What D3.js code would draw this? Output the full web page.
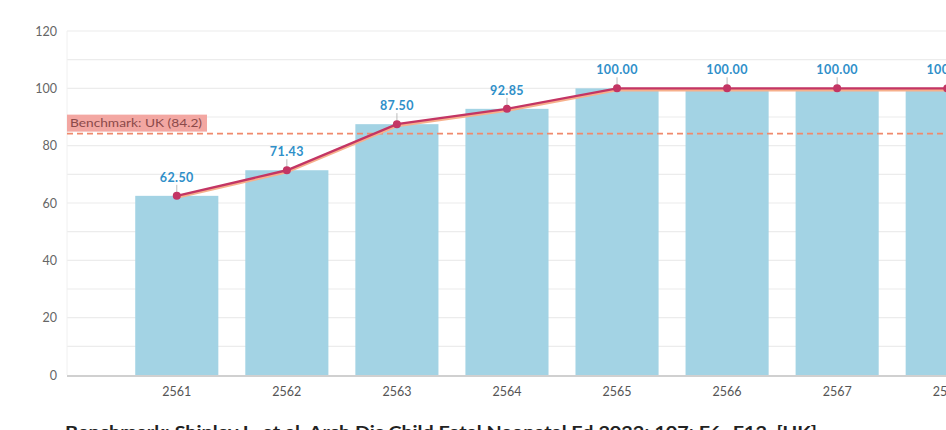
<!DOCTYPE html>
<html><head><meta charset="utf-8">
<script src="https://cdn.jsdelivr.net/npm/d3@7"></script>
<style>
html,body{margin:0;padding:0;background:#fff;overflow:hidden;}
svg{display:block;font-family:Lato,"Open Sans",sans-serif;}
</style></head>
<body>
<svg id="chart" width="946" height="430"></svg>
<script>
const categories = ["2561","2562","2563","2564","2565","2566","2567","2568"];
const values = [62.50, 71.43, 87.50, 92.85, 100.00, 100.00, 100.00, 100.00];
const yTicks = [0,20,40,60,80,100,120];
const benchmarkValue = 84.2;
const benchmarkLabel = "Benchmark: UK (84.2)";
const footnote = "Benchmark: Shipley L, et al. Arch Dis Child Fetal Neonatal Ed 2022; 107: F6–F12. [UK]";

(function(){
const svg = d3.select("#chart");
const pL = 67, pR = 1057, pT = 31, pB = 375;

const y = d3.scaleLinear().domain([0,120]).range([pB, pT]);
const x = d3.scaleBand().domain(categories).range([pL, pR])
  .paddingInner(0.245).paddingOuter(0.62);

svg.append("g").selectAll("line").data(d3.range(10,121,10)).join("line")
  .attr("x1", pL).attr("x2", 946)
  .attr("y1", d=>y(d)).attr("y2", d=>y(d))
  .attr("stroke", "#ececec").attr("stroke-width", 1.2);
svg.append("line").attr("x1", pL).attr("x2", pL).attr("y1", pT).attr("y2", pB)
  .attr("stroke", "#f0f0f0").attr("stroke-width", 1);

const yAxis = d3.axisLeft(y).tickValues(yTicks).tickSize(0).tickPadding(10);
const gy = svg.append("g").attr("transform", `translate(${pL},0)`).call(yAxis);
gy.select(".domain").remove();
gy.selectAll("text").attr("fill", "#666").attr("font-size", 12.5)
  .attr("font-family", "Lato, sans-serif");

svg.append("g").selectAll("rect").data(values).join("rect")
  .attr("x", (d,i)=>x(categories[i]))
  .attr("width", x.bandwidth())
  .attr("y", d=>y(d))
  .attr("height", d=>y(0)-y(d))
  .attr("fill", "#a3d3e4");

svg.append("line").attr("x1", pL).attr("x2", 946).attr("y1", y(0)+1).attr("y2", y(0)+1)
  .attr("stroke", "#d0d0d0").attr("stroke-width", 2);

const xAxis = d3.axisBottom(x).tickSize(0).tickPadding(12);
const gx = svg.append("g").attr("transform", `translate(0,${y(0)})`).call(xAxis);
gx.select(".domain").remove();
gx.selectAll("text").attr("fill", "#555").attr("font-size", 12.5)
  .attr("font-family", "Lato, sans-serif");

svg.append("line").attr("x1", pL).attr("x2", 946)
  .attr("y1", y(benchmarkValue)).attr("y2", y(benchmarkValue))
  .attr("stroke", "#f08a6c").attr("stroke-width", 1.6).attr("stroke-dasharray", "6,4");
const bl = svg.append("g");
bl.append("rect").attr("x", pL).attr("y", y(benchmarkValue)-19)
  .attr("width", 140).attr("height", 17).attr("fill", "#f3a7a2");
bl.append("text").attr("x", pL+3).attr("y", y(benchmarkValue)-6.5)
  .attr("font-size", 10.5).attr("fill", "#8b4a4a")
  .attr("textLength", 132).attr("lengthAdjust", "spacingAndGlyphs").text(benchmarkLabel);

const cx = (i)=>x(categories[i])+x.bandwidth()/2;
const line = d3.line().x((d,i)=>cx(i)).y(d=>y(d));
svg.append("path").datum(values).attr("d", line).attr("fill","none")
  .attr("stroke", "#f7b08c").attr("stroke-width", 3.5).attr("transform","translate(0,1.3)");
svg.append("path").datum(values).attr("d", line).attr("fill","none")
  .attr("stroke", "#c33564").attr("stroke-width", 2.4);

svg.append("g").selectAll("line").data(values).join("line")
  .attr("x1", (d,i)=>cx(i)).attr("x2", (d,i)=>cx(i))
  .attr("y1", d=>y(d)-11).attr("y2", d=>y(d)-3)
  .attr("stroke", "#aaa").attr("stroke-width", 0.8);
svg.append("g").selectAll("circle").data(values).join("circle")
  .attr("cx", (d,i)=>cx(i)).attr("cy", d=>y(d)).attr("r", 4)
  .attr("fill", "#c33564");
svg.append("g").selectAll("text").data(values).join("text")
  .attr("x", (d,i)=>cx(i)).attr("y", d=>y(d)-14)
  .attr("text-anchor", "middle").attr("font-size", 12.5).attr("font-weight", 700)
  .attr("letter-spacing", 0.4)
  .attr("fill", "#2f8fc9").text(d=>d3.format(".2f")(d));

svg.append("text").attr("x", 65).attr("y", 438).attr("font-size", 17).attr("font-weight", 700)
  .attr("fill", "#222").attr("textLength", 752).attr("lengthAdjust", "spacingAndGlyphs")
  .text(footnote);
})();
</script>
</body></html>
